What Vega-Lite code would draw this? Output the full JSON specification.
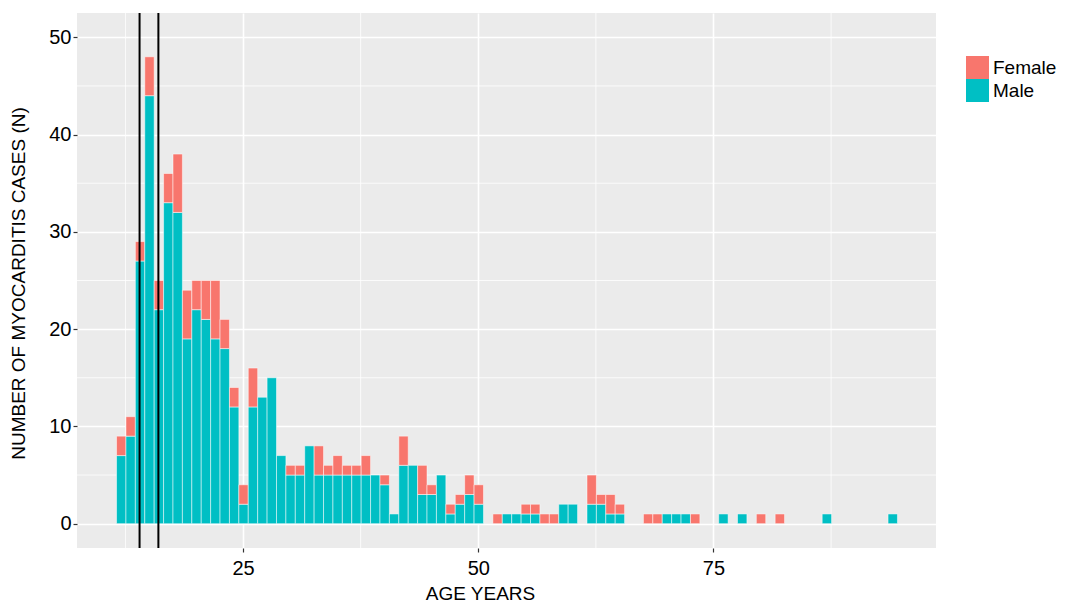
{
  "$schema": "https://vega.github.io/schema/vega-lite/v6.json",
  "width": 859,
  "height": 535,
  "autosize": {"type": "none"},
  "padding": {"left": 77, "top": 13, "right": 130, "bottom": 57},
  "background": "white",
  "config": {
    "view": {"fill": "#EBEBEB", "stroke": null},
    "font": "Liberation Sans",
    "axis": {
      "grid": true, "gridColor": "white", "gridWidth": 1.6,
      "domain": false, "tickColor": "#333333", "tickSize": 4, "tickWidth": 1.2,
      "labelColor": "#000000", "labelFontSize": 20, "labelFont": "Liberation Sans",
      "titleFontSize": 19, "titleColor": "#000000", "titleFontWeight": "normal", "titleFont": "Liberation Sans"
    }
  },
  "datasets": {
    "cases": [
      {"age": 12, "sex": "Male", "n": 7}, {"age": 12, "sex": "Female", "n": 2},
      {"age": 13, "sex": "Male", "n": 9}, {"age": 13, "sex": "Female", "n": 2},
      {"age": 14, "sex": "Male", "n": 27}, {"age": 14, "sex": "Female", "n": 2},
      {"age": 15, "sex": "Male", "n": 44}, {"age": 15, "sex": "Female", "n": 4},
      {"age": 16, "sex": "Male", "n": 22}, {"age": 16, "sex": "Female", "n": 3},
      {"age": 17, "sex": "Male", "n": 33}, {"age": 17, "sex": "Female", "n": 3},
      {"age": 18, "sex": "Male", "n": 32}, {"age": 18, "sex": "Female", "n": 6},
      {"age": 19, "sex": "Male", "n": 19}, {"age": 19, "sex": "Female", "n": 5},
      {"age": 20, "sex": "Male", "n": 22}, {"age": 20, "sex": "Female", "n": 3},
      {"age": 21, "sex": "Male", "n": 21}, {"age": 21, "sex": "Female", "n": 4},
      {"age": 22, "sex": "Male", "n": 19}, {"age": 22, "sex": "Female", "n": 6},
      {"age": 23, "sex": "Male", "n": 18}, {"age": 23, "sex": "Female", "n": 3},
      {"age": 24, "sex": "Male", "n": 12}, {"age": 24, "sex": "Female", "n": 2},
      {"age": 25, "sex": "Male", "n": 2}, {"age": 25, "sex": "Female", "n": 2},
      {"age": 26, "sex": "Male", "n": 12}, {"age": 26, "sex": "Female", "n": 4},
      {"age": 27, "sex": "Male", "n": 13},
      {"age": 28, "sex": "Male", "n": 15},
      {"age": 29, "sex": "Male", "n": 7},
      {"age": 30, "sex": "Male", "n": 5}, {"age": 30, "sex": "Female", "n": 1},
      {"age": 31, "sex": "Male", "n": 5}, {"age": 31, "sex": "Female", "n": 1},
      {"age": 32, "sex": "Male", "n": 8},
      {"age": 33, "sex": "Male", "n": 5}, {"age": 33, "sex": "Female", "n": 3},
      {"age": 34, "sex": "Male", "n": 5}, {"age": 34, "sex": "Female", "n": 1},
      {"age": 35, "sex": "Male", "n": 5}, {"age": 35, "sex": "Female", "n": 2},
      {"age": 36, "sex": "Male", "n": 5}, {"age": 36, "sex": "Female", "n": 1},
      {"age": 37, "sex": "Male", "n": 5}, {"age": 37, "sex": "Female", "n": 1},
      {"age": 38, "sex": "Male", "n": 5}, {"age": 38, "sex": "Female", "n": 2},
      {"age": 39, "sex": "Male", "n": 5},
      {"age": 40, "sex": "Male", "n": 4}, {"age": 40, "sex": "Female", "n": 1},
      {"age": 41, "sex": "Male", "n": 1},
      {"age": 42, "sex": "Male", "n": 6}, {"age": 42, "sex": "Female", "n": 3},
      {"age": 43, "sex": "Male", "n": 6},
      {"age": 44, "sex": "Male", "n": 3}, {"age": 44, "sex": "Female", "n": 3},
      {"age": 45, "sex": "Male", "n": 3}, {"age": 45, "sex": "Female", "n": 1},
      {"age": 46, "sex": "Male", "n": 5},
      {"age": 47, "sex": "Male", "n": 1}, {"age": 47, "sex": "Female", "n": 1},
      {"age": 48, "sex": "Male", "n": 2}, {"age": 48, "sex": "Female", "n": 1},
      {"age": 49, "sex": "Male", "n": 3}, {"age": 49, "sex": "Female", "n": 2},
      {"age": 50, "sex": "Male", "n": 2}, {"age": 50, "sex": "Female", "n": 2},
      {"age": 52, "sex": "Female", "n": 1},
      {"age": 53, "sex": "Male", "n": 1},
      {"age": 54, "sex": "Male", "n": 1},
      {"age": 55, "sex": "Male", "n": 1}, {"age": 55, "sex": "Female", "n": 1},
      {"age": 56, "sex": "Male", "n": 1}, {"age": 56, "sex": "Female", "n": 1},
      {"age": 57, "sex": "Female", "n": 1},
      {"age": 58, "sex": "Female", "n": 1},
      {"age": 59, "sex": "Male", "n": 2},
      {"age": 60, "sex": "Male", "n": 2},
      {"age": 62, "sex": "Male", "n": 2}, {"age": 62, "sex": "Female", "n": 3},
      {"age": 63, "sex": "Male", "n": 2}, {"age": 63, "sex": "Female", "n": 1},
      {"age": 64, "sex": "Male", "n": 1}, {"age": 64, "sex": "Female", "n": 2},
      {"age": 65, "sex": "Male", "n": 1}, {"age": 65, "sex": "Female", "n": 1},
      {"age": 68, "sex": "Female", "n": 1},
      {"age": 69, "sex": "Female", "n": 1},
      {"age": 70, "sex": "Male", "n": 1},
      {"age": 71, "sex": "Male", "n": 1},
      {"age": 72, "sex": "Male", "n": 1},
      {"age": 73, "sex": "Female", "n": 1},
      {"age": 76, "sex": "Male", "n": 1},
      {"age": 78, "sex": "Male", "n": 1},
      {"age": 80, "sex": "Female", "n": 1},
      {"age": 82, "sex": "Female", "n": 1},
      {"age": 87, "sex": "Male", "n": 1},
      {"age": 94, "sex": "Male", "n": 1}
    ],
    "vlines": [{"age": 14}, {"age": 16}],
    "ygrid": [{"n": 5}, {"n": 15}, {"n": 25}, {"n": 35}, {"n": 45}],
    "xgrid": [{"age": 12.5}, {"age": 37.5}, {"age": 62.5}, {"age": 87.5}]
  },
  "layer": [
    {
      "data": {"name": "ygrid"},
      "mark": {"type": "rule", "color": "white", "strokeWidth": 0.8},
      "encoding": {
        "y": {"field": "n", "type": "quantitative", "scale": {"domain": [-2.5, 52.5], "nice": false, "zero": false},
          "axis": {"values": [0, 10, 20, 30, 40, 50], "title": "NUMBER OF MYOCARDITIS CASES (N)", "titleX": -59, "titleY": 270, "titleAlign": "center", "titleBaseline": "middle", "labelPadding": 2}}
      }
    },
    {
      "data": {"name": "xgrid"},
      "mark": {"type": "rule", "color": "white", "strokeWidth": 0.8},
      "encoding": {
        "x": {"field": "age", "type": "quantitative", "scale": {"domain": [7.35, 98.65], "nice": false, "zero": false},
          "axis": {"values": [25, 50, 75], "title": "AGE YEARS", "titleX": 403, "titleY": 45, "titleBaseline": "middle", "labelPadding": 6}}
      }
    },
    {
      "data": {"name": "cases"},
      "mark": {"type": "bar", "stroke": "white", "strokeWidth": 0.5, "binSpacing": 0},
      "encoding": {
        "x": {
          "field": "age", "type": "quantitative", "bin": {"step": 1, "extent": [11.5, 95.5], "nice": false},
          "scale": {"domain": [7.35, 98.65], "nice": false, "zero": false},
          "axis": {"values": [25, 50, 75], "title": "AGE YEARS", "titleX": 403, "titleY": 45, "titleBaseline": "middle", "labelPadding": 6}
        },
        "y": {
          "aggregate": "sum", "field": "n", "type": "quantitative",
          "scale": {"domain": [-2.5, 52.5], "nice": false, "zero": false},
          "axis": {"values": [0, 10, 20, 30, 40, 50], "title": "NUMBER OF MYOCARDITIS CASES (N)", "titleX": -59, "titleY": 270, "titleAlign": "center", "titleBaseline": "middle", "labelPadding": 2}
        },
        "color": {
          "field": "sex", "type": "nominal",
          "scale": {"domain": ["Female", "Male"], "range": ["#F8766D", "#00BFC4"]},
          "legend": {"title": null, "orient": "none", "legendX": 889, "legendY": 43, "symbolType": "square", "symbolSize": 529, "symbolStrokeWidth": 0, "symbolOpacity": 1, "labelFontSize": 19, "labelColor": "#000000", "labelOffset": 4, "rowPadding": 0, "labelLimit": 200}
        },
        "order": {"field": "sex", "sort": "descending"}
      }
    },
    {
      "data": {"name": "vlines"},
      "mark": {"type": "rule", "color": "black", "strokeWidth": 2},
      "encoding": {
        "x": {"field": "age", "type": "quantitative", "scale": {"domain": [7.35, 98.65], "nice": false, "zero": false},
          "axis": {"values": [25, 50, 75], "title": "AGE YEARS", "titleX": 403, "titleY": 45, "titleBaseline": "middle", "labelPadding": 6}}
      }
    }
  ]
}
